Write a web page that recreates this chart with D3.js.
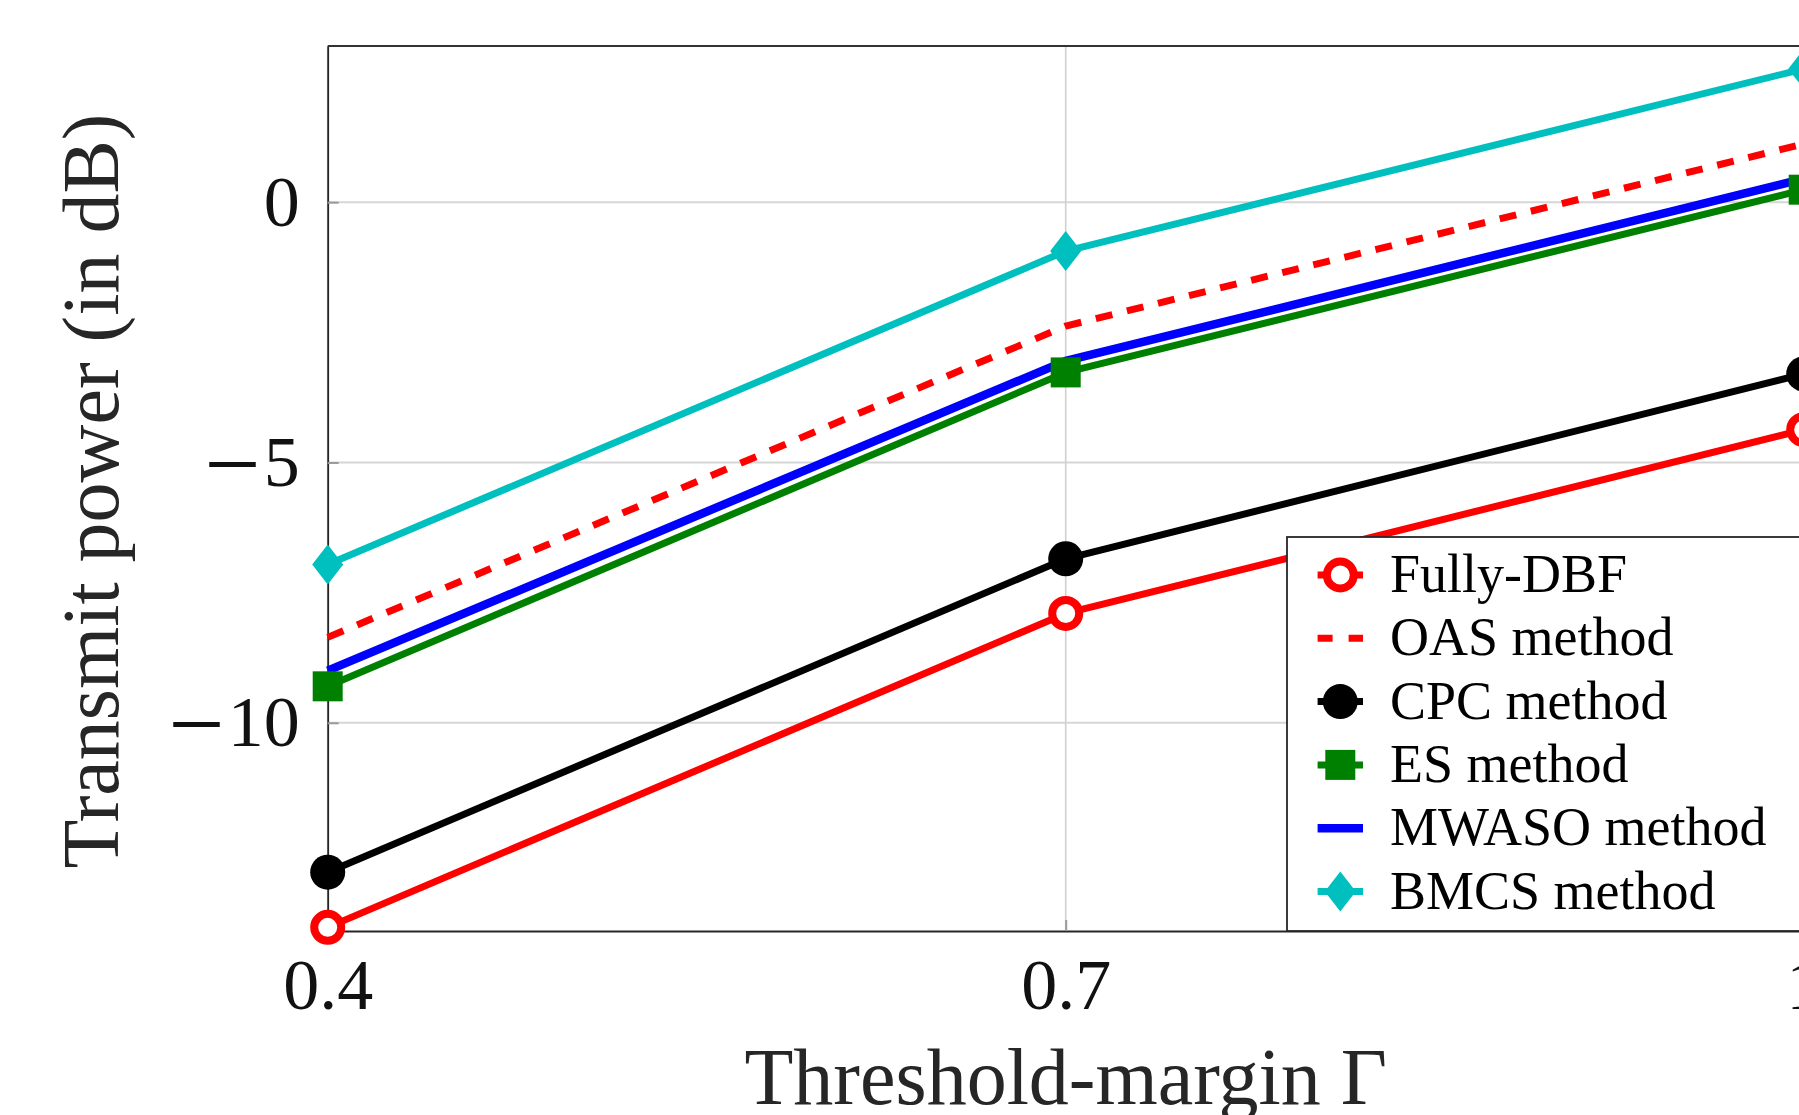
<!DOCTYPE html>
<html>
<head>
<meta charset="utf-8">
<script src="https://cdn.jsdelivr.net/npm/d3@7"></script>
<style>
  body { margin: 0; background: #fff; }
  svg { display: block; font-family: "Liberation Serif", "DejaVu Serif", serif; }
</style>
</head>
<body>
<div id="chart"></div>
<script>
// Transmit power vs threshold-margin
var thresholds = [0.4, 0.7, 1.0];

var fullyDBF = [-13.93, -7.90, -4.37];
var oasMethod = [-8.36, -2.38, 1.12];
var cpcMethod = [-12.87, -6.85, -3.30];
var esMethod = [-9.30, -3.27, 0.24];
var mwasoMethod = [-9.00, -3.05, 0.45];
var bmcsMethod = [-6.96, -0.94, 2.56];

var xTicks = [0.4, 0.7, 1];
var yTicks = [-10, -5, 0];

var seriesNames = ["Fully-DBF", "OAS method", "CPC method", "ES method",
                   "MWASO method", "BMCS method"];

function plotChart() {
    var width = 1799, height = 1115;
    var plot = { left: 327.7, right: 1803.7, top: 46, bottom: 931 };

    var x = d3.scaleLinear().domain([0.4, 1.0]).range([plot.left, plot.right]);
    var y = d3.scaleLinear().domain([-14, 3]).range([plot.bottom, plot.top]);

    // style per series (kept apart from the values)
    var styles = {
        "Fully-DBF":    { color: "#ff0000", width: 7,   dash: null,    marker: "openCircle" },
        "OAS method":   { color: "#ff0000", width: 7,   dash: "17,15", marker: null },
        "CPC method":   { color: "#000000", width: 7,   dash: null,    marker: "circle" },
        "ES method":    { color: "#008000", width: 7,   dash: null,    marker: "square" },
        "MWASO method": { color: "#0000ff", width: 8.5, dash: null,    marker: null },
        "BMCS method":  { color: "#00bfbf", width: 7,   dash: null,    marker: "diamond" }
    };

    var values = [fullyDBF, oasMethod, cpcMethod, esMethod, mwasoMethod, bmcsMethod];
    var series = seriesNames.map(function(name, i) {
        return {
            name: name,
            style: styles[name],
            points: thresholds.map(function(t, j) { return { x: t, y: values[i][j] }; })
        };
    });

    // ES squares sit on top of the MWASO line
    var drawOrder = ["Fully-DBF", "OAS method", "CPC method", "MWASO method",
                     "ES method", "BMCS method"];

    var svg = d3.select("#chart").append("svg")
      .attr("width", width)
      .attr("height", height);

    // grid
    var grid = svg.append("g");
    grid.selectAll("line.hgrid")
      .data(yTicks)
      .enter().append("line")
      .attr("class", "hgrid")
      .attr("x1", plot.left).attr("x2", plot.right)
      .attr("y1", function(d) { return y(d); })
      .attr("y2", function(d) { return y(d); })
      .attr("stroke", "#d6d6d6")
      .attr("stroke-width", 2);

    grid.selectAll("line.vgrid")
      .data(xTicks)
      .enter().append("line")
      .attr("class", "vgrid")
      .attr("y1", plot.top).attr("y2", plot.bottom)
      .attr("x1", function(d) { return x(d); })
      .attr("x2", function(d) { return x(d); })
      .attr("stroke", "#d0d0d0")
      .attr("stroke-width", 1.6);

    // axes
    var yAxis = svg.append("g")
      .attr("transform", "translate(" + plot.left + ",0)")
      .call(d3.axisLeft(y).tickValues(yTicks).tickSizeInner(-11).tickSizeOuter(0).tickPadding(28));

    var xAxis = svg.append("g")
      .attr("transform", "translate(0," + plot.bottom + ")")
      .call(d3.axisBottom(x).tickValues(xTicks).tickSizeInner(-11).tickSizeOuter(0).tickPadding(27)
        .tickFormat(function(d) { return d === 1 ? "1" : d3.format(".1f")(d); }));

    [yAxis, xAxis].forEach(function(ax) {
        ax.select(".domain").attr("stroke", "#262626").attr("stroke-width", 1.8);
        ax.selectAll(".tick line").attr("stroke", "#9a9a9a").attr("stroke-width", 2);
        ax.selectAll(".tick text")
          .attr("fill", "#111")
          .style("font-size", "72px")
          .style("font-family", "'Liberation Serif', serif");
    });

    // the minus in the original is a long thin math minus: give it its own tspan,
    // and handle the vertical shift here instead of the axis' 0.32em
    yAxis.selectAll(".tick text").each(function(d) {
        if (d >= 0) return;
        var t = d3.select(this);
        t.attr("dy", null).text(null);
        t.append("tspan")
          .attr("dy", 35)
          .style("font-size", "100px")
          .text("\u2212");
        t.append("tspan")
          .attr("dx", 3)
          .attr("dy", -12)
          .text(String(Math.abs(d)));
    });

    // top border
    svg.append("line")
      .attr("x1", plot.left).attr("x2", plot.right)
      .attr("y1", plot.top).attr("y2", plot.top)
      .attr("stroke", "#333")
      .attr("stroke-width", 2);

    var line = d3.line()
      .x(function(d) { return x(d.x); })
      .y(function(d) { return y(d.y); });

    var ordered = drawOrder.map(function(n) {
        return series.filter(function(s) { return s.name == n; })[0];
    });

    var lines = svg.append("g");
    ordered.forEach(function(s) {
        lines.append("path")
          .datum(s.points)
          .attr("d", line)
          .attr("fill", "none")
          .attr("stroke", s.style.color)
          .attr("stroke-width", s.style.width)
          .attr("stroke-dasharray", s.style.dash)
          .attr("stroke-linejoin", "round");
    });

    function drawMarker(g, kind, color, cx, cy) {
        if (kind == "openCircle") {
            g.append("circle")
              .attr("cx", cx).attr("cy", cy).attr("r", 13.5)
              .attr("fill", "#fff")
              .attr("stroke", color)
              .attr("stroke-width", 8);
        } else if (kind == "circle") {
            g.append("circle")
              .attr("cx", cx).attr("cy", cy).attr("r", 17.5)
              .attr("fill", color);
        } else if (kind == "square") {
            g.append("rect")
              .attr("x", cx - 15).attr("y", cy - 15)
              .attr("width", 30).attr("height", 30)
              .attr("fill", color);
        } else if (kind == "diamond") {
            g.append("path")
              .attr("d", "M" + cx + "," + (cy - 20) + "L" + (cx + 15.5) + "," + cy +
                         "L" + cx + "," + (cy + 20) + "L" + (cx - 15.5) + "," + cy + "Z")
              .attr("fill", color);
        }
    }

    var markers = svg.append("g");
    ordered.forEach(function(s) {
        if (!s.style.marker) return;
        s.points.forEach(function(p) {
            drawMarker(markers, s.style.marker, s.style.color, x(p.x), y(p.y));
        });
    });

    // legend
    var legend = { left: 1287, top: 537, rowStart: 38, rowStep: 63.3 };
    svg.append("rect")
      .attr("x", legend.left)
      .attr("y", legend.top)
      .attr("width", 600)
      .attr("height", plot.bottom - legend.top)
      .attr("fill", "#fff")
      .attr("stroke", "#262626")
      .attr("stroke-width", 1.8);

    series.forEach(function(s, i) {
        var cy = legend.top + legend.rowStart + i * legend.rowStep;
        var g = svg.append("g");
        g.append("line")
          .attr("x1", 1317.6).attr("x2", 1363)
          .attr("y1", cy).attr("y2", cy)
          .attr("stroke", s.style.color)
          .attr("stroke-width", s.style.width)
          .attr("stroke-dasharray", s.style.dash ? "15,16" : null);
        if (s.style.marker) drawMarker(g, s.style.marker, s.style.color, 1340.3, cy);
        g.append("text")
          .attr("x", 1390)
          .attr("y", cy + 17)
          .attr("fill", "#000")
          .style("font-size", "54px")
          .text(s.name);
    });

    // axis titles
    svg.append("text")
      .attr("x", (plot.left + x(1.0)) / 2)
      .attr("y", 1104)
      .attr("text-anchor", "middle")
      .attr("fill", "#262626")
      .style("font-size", "80px")
      .text("Threshold-margin Γ");

    svg.append("text")
      .attr("transform", "translate(118,491) rotate(-90)")
      .attr("text-anchor", "middle")
      .attr("fill", "#262626")
      .style("font-size", "80px")
      .text("Transmit power (in dB)");
}

plotChart();
</script>
</body>
</html>
